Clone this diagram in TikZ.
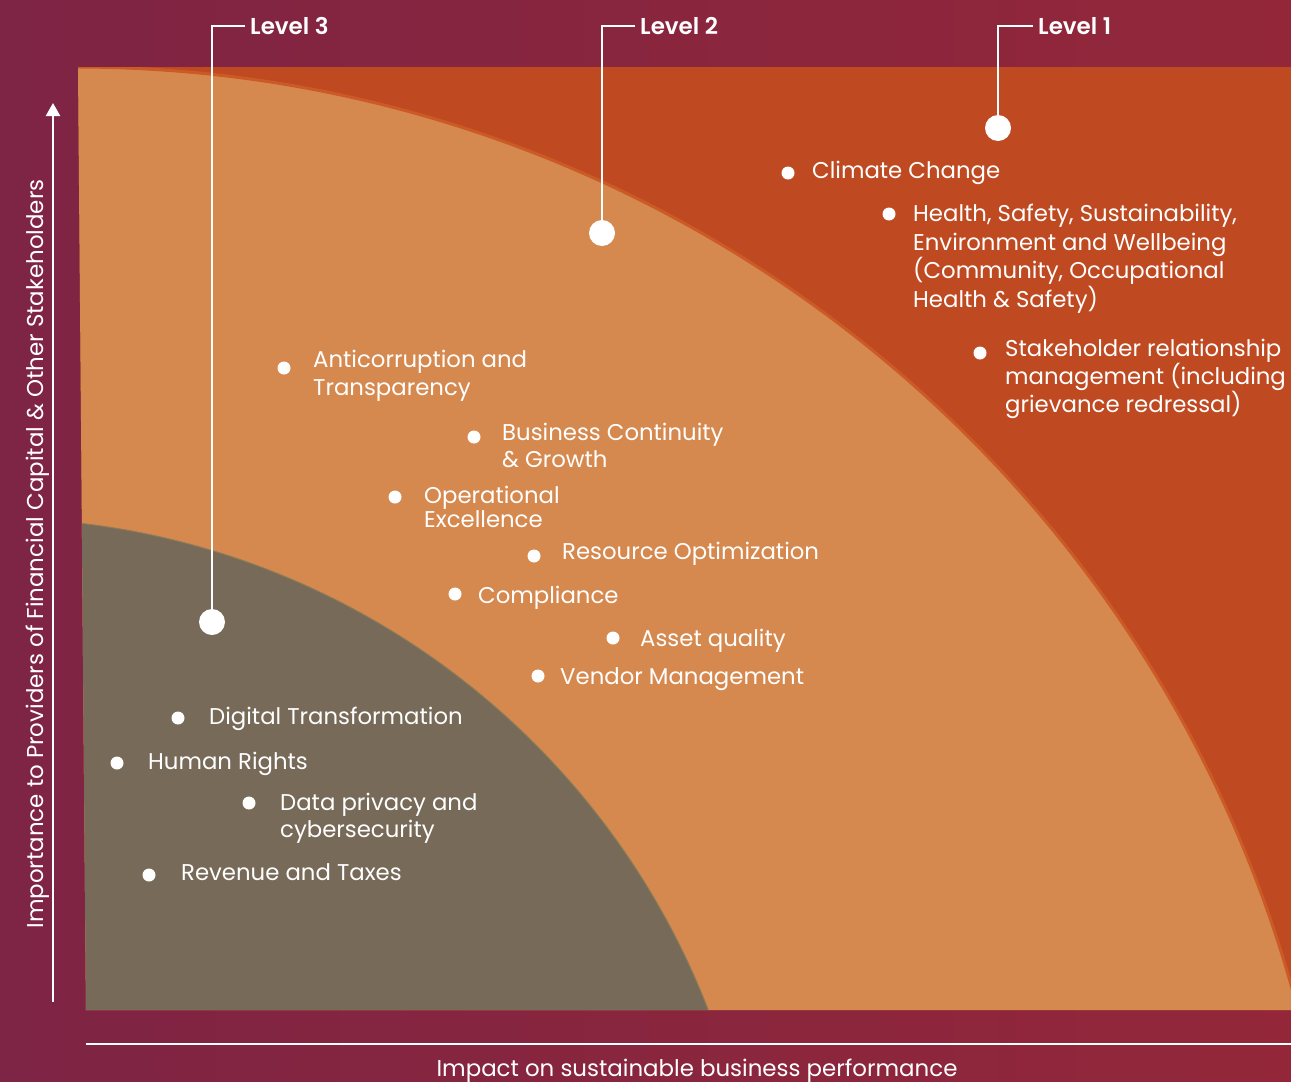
\documentclass[tikz,border=0pt]{standalone}
\usepackage{fontspec}
\setmainfont{Poppins}[BoldFont={Poppins SemiBold}]
\usetikzlibrary{arrows.meta}
\definecolor{wine}{HTML}{7E2444}
\definecolor{wineright}{HTML}{932739}
\definecolor{rust}{HTML}{BF4A22}
\definecolor{rustedge}{HTML}{CC5A27}
\definecolor{peach}{HTML}{D6894F}
\definecolor{taupe}{HTML}{776A58}
\definecolor{taupeedge}{HTML}{8C7D58}
\tikzset{
  bullet/.style={shape=circle, fill=white, inner sep=0pt, minimum size=13pt},
  leveldot/.style={shape=circle, fill=white, inner sep=0pt, minimum size=26pt},
  item/.style={anchor=base west, inner sep=0pt, align=left, text=white, font=\fontsize{22.8}{28}\selectfont},
  levellabel/.style={anchor=base west, inner sep=5pt, text=white, font=\fontsize{23}{26}\selectfont\bfseries},
  levelline/.style={draw=white, line width=1.3pt},
  axisline/.style={draw=white, line width=2.5pt},
  axislabel/.style={anchor=base, inner sep=0pt, text=white, font=\fontsize{22.9}{26}\selectfont},
}
\begin{document}
\begin{tikzpicture}[x=1pt, y=-1pt]
\useasboundingbox (0,0) rectangle (1291,1082);
\shade[left color=wine, right color=wineright] (0,0) rectangle (1291,1082);
% the three zones
\fill[rust] (78,67) -- (1291,67) -- (1291,1010) -- (86,1010) -- cycle;
\begin{scope}
\clip (78,67) -- (1291,67) -- (1291,1010) -- (86,1010) -- cycle;
\fill[peach] (75,1331) circle[radius=1264pt];
\draw[rustedge, line width=3pt] (75,1331) circle[radius=1264pt];
\fill[taupe] (-10,1288) circle[radius=770pt];
\draw[taupeedge, line width=1pt] (-10,1288) circle[radius=770pt];
\end{scope}
% axes
\coordinate (ybase) at (53,1002);
\coordinate (ytop) at (53,103);
\coordinate (xstart) at (86,1044);
\coordinate (xend) at (1291,1044);
\draw[axisline, -{Triangle[width=14pt, length=13pt]}] (ybase) -- (ytop);
\draw[axisline] (xstart) -- (xend);
\node[axislabel, rotate=90] (ylab) at (43,554) {Importance to Providers of Financial Capital \& Other Stakeholders};
\node[axislabel] (xlab) at (697,1076) {Impact on sustainable business performance};
% levels
\node[levellabel] (L3) at (245,34.5) {Level 3};
\node[levellabel] (L2) at (635,34.5) {Level 2};
\node[levellabel] (L1) at (1033,34.5) {Level 1};
\node[leveldot] (D3) at (212,622) {};
\node[leveldot] (D2) at (602,233) {};
\node[leveldot] (D1) at (998,128) {};
\draw[levelline] (L3) -| (D3);
\draw[levelline] (L2) -| (D2);
\draw[levelline] (L1) -| (D1);
% level 1 topics (base = last line)
\node[bullet] (climateb) at (788,173) {};
\node[item] (climate) at (812,178) {Climate Change};
\node[bullet] (healthb) at (889,214) {};
\node[item, font=\fontsize{22.8}{28.5}\selectfont] (health) at (913,307) {Health, Safety, Sustainability,\\Environment and Wellbeing\\(Community, Occupational\\Health \& Safety)};
\node[bullet] (stakeb) at (980,353) {};
\node[item] (stake) at (1005,412) {Stakeholder relationship\\management (including\\grievance redressal)};
% level 2 topics
\node[bullet] (anticb) at (284,368) {};
\node[item] (antic) at (313,395) {Anticorruption and\\Transparency};
\node[bullet] (busb) at (474,437) {};
\node[item, font=\fontsize{22.8}{27}\selectfont] (bus) at (502,467) {Business Continuity\\\& Growth};
\node[bullet] (opb) at (395,497) {};
\node[item, font=\fontsize{22.8}{24}\selectfont] (op) at (424,527) {Operational\\Excellence};
\node[bullet] (resb) at (534,556) {};
\node[item] (res) at (562,559) {Resource Optimization};
\node[bullet] (compb) at (455,594) {};
\node[item] (comp) at (478,603) {Compliance};
\node[bullet] (assetb) at (613,638) {};
\node[item] (asset) at (640,646) {Asset quality};
\node[bullet] (vendb) at (538,676) {};
\node[item] (vend) at (560,684) {Vendor Management};
% level 3 topics
\node[bullet] (digb) at (178,718) {};
\node[item] (dig) at (209,724) {Digital Transformation};
\node[bullet] (humb) at (117,763) {};
\node[item] (hum) at (148,769) {Human Rights};
\node[bullet] (datab) at (249,803) {};
\node[item, font=\fontsize{22.8}{27}\selectfont] (data) at (280,837) {Data privacy and\\cybersecurity};
\node[bullet] (revb) at (149,875) {};
\node[item] (rev) at (181,880) {Revenue and Taxes};
\end{tikzpicture}
\end{document}
